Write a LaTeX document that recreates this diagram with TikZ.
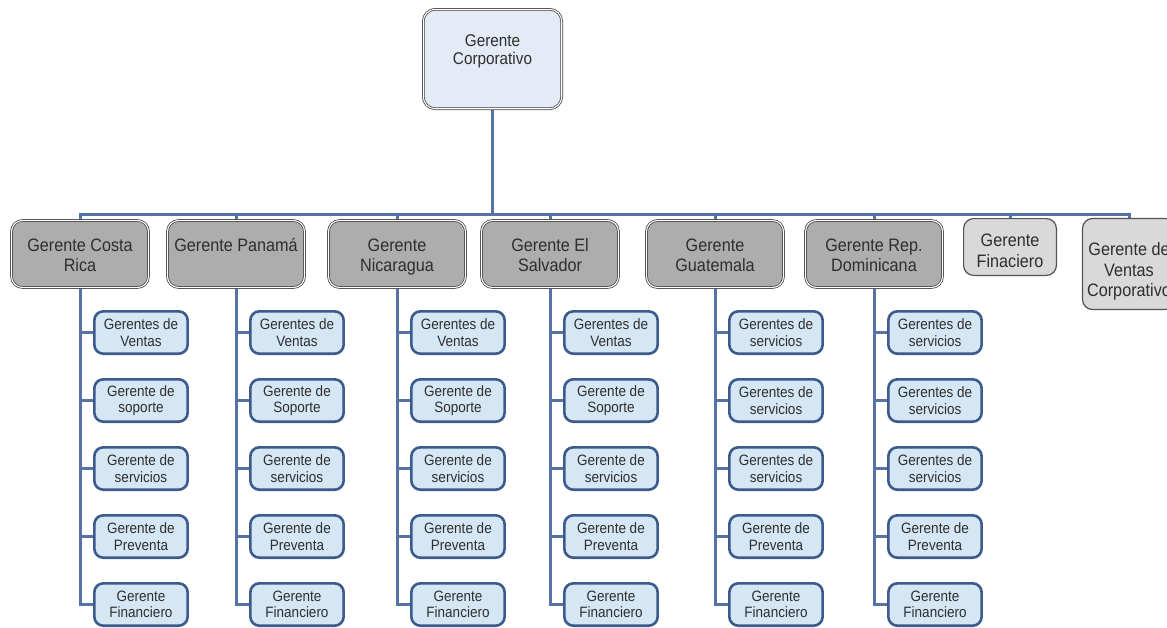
\documentclass[tikz,border=0pt]{standalone}
\usepackage{fontspec}
\setmainfont{Liberation Sans}[FakeStretch=0.9]
\usetikzlibrary{backgrounds}

\definecolor{linkblue}{HTML}{5672A6}
\definecolor{subedge}{HTML}{3C5B8C}
\definecolor{subfill}{HTML}{D5E7F4}
\definecolor{topfill}{HTML}{E4EBF6}
\definecolor{regfill}{HTML}{ADADAD}
\definecolor{stafffill}{HTML}{D9D9D9}
\definecolor{edgegray}{HTML}{404040}
\definecolor{inkgray}{HTML}{2E2E2E}

% text block hung from the top of a box: height, width, top gap, lines
\newcommand\hdtext[4]{\parbox[c][#1][t]{#2}{\centering\vspace*{#3}\rule{0pt}{14pt}#4\par}}

\begin{document}
\begin{tikzpicture}[x=1pt,y=-1pt,
  link/.style={draw=linkblue, line width=3pt},
  headbox/.style={draw=edgegray, double=white, double distance=1.1pt, line width=0.75pt,
    fill=topfill, rounded corners=12pt, minimum width=138.4pt, minimum height=99.4pt,
    inner sep=0pt, text=inkgray, font=\fontsize{17}{17.5}\selectfont},
  region/.style={draw=edgegray, double=white, double distance=1.1pt, line width=0.75pt,
    fill=regfill, rounded corners=11pt, minimum width=137pt, minimum height=67pt,
    inner sep=0pt, text=inkgray, font=\fontsize{18}{20}\selectfont},
  staff/.style={draw=edgegray!90, line width=1.2pt, fill=stafffill, rounded corners=10pt,
    inner sep=0pt, text=inkgray, font=\fontsize{18}{20.5}\selectfont},
  sub/.style={draw=subedge, line width=2.6pt, fill=subfill, rounded corners=9pt,
    minimum width=93.3pt, minimum height=42.4pt, inner sep=0pt, align=center,
    text=inkgray, font=\fontsize{15}{16.5}\selectfont},
]
\useasboundingbox (0,0) rectangle (1167,627);

% head of the organisation
\node[headbox] (top) at (492.5,59) {\hdtext{99.4pt}{134pt}{23.4pt}{Gerente\\Corporativo}};

% country managers
\node[region] (cr) at (80,254)  {\hdtext{67pt}{134pt}{16.6pt}{Gerente Costa\\Rica}};
\node[region] (pa) at (236,254) {\hdtext{67pt}{134pt}{16.6pt}{Gerente Panamá}};
\node[region] (ni) at (397,254) {\hdtext{67pt}{134pt}{16.6pt}{Gerente\\Nicaragua}};
\node[region] (sv) at (550,254) {\hdtext{67pt}{134pt}{16.6pt}{Gerente El\\Salvador}};
\node[region] (gu) at (715,254) {\hdtext{67pt}{134pt}{16.6pt}{Gerente\\Guatemala}};
\node[region] (rd) at (874,254) {\hdtext{67pt}{134pt}{16.6pt}{Gerente Rep.\\Dominicana}};

% corporate staff
\node[staff, minimum width=92.8pt, minimum height=56.8pt] (fin) at (1010,247)
  {\hdtext{56.8pt}{90pt}{14.1pt}{Gerente\\Finaciero}};
\node[staff, minimum width=93pt, minimum height=91pt] (vc) at (1129,264)
  {\hdtext{91pt}{92pt}{23pt}{Gerente de\\Ventas\\Corporativo}};

% second level under each country
\foreach \t [count=\j] in {Gerentes de\\Ventas, Gerente de\\soporte, Gerente de\\servicios,
    Gerente de\\Preventa, Gerente\\Financiero}
  \node[sub] (cr\j) at (141,264.5+68*\j) {\t};
\foreach \t [count=\j] in {Gerentes de\\Ventas, Gerente de\\Soporte, Gerente de\\servicios,
    Gerente de\\Preventa, Gerente\\Financiero}{
  \node[sub] (pa\j) at (297,264.5+68*\j) {\t};
  \node[sub] (ni\j) at (458,264.5+68*\j) {\t};
  \node[sub] (sv\j) at (611,264.5+68*\j) {\t};
}
\foreach \t [count=\j] in {Gerentes de\\servicios, Gerentes de\\servicios, Gerentes de\\servicios,
    Gerente de\\Preventa, Gerente\\Financiero}{
  \node[sub] (gu\j) at (776,264.5+68*\j) {\t};
  \node[sub] (rd\j) at (935,264.5+68*\j) {\t};
}

% connectors
\begin{scope}[on background layer]
  \coordinate (bus) at (0,214);
  \foreach \r in {cr,pa,ni,sv,gu,rd,fin,vc}
    \draw[link] (top.south) -- (top.south |- bus) -| (\r.north);
  \foreach \r in {cr,pa,ni,sv,gu,rd}
    \foreach \j in {1,...,5}
      \draw[link] (\r.south) |- (\r\j.west);
\end{scope}
\end{tikzpicture}
\end{document}
